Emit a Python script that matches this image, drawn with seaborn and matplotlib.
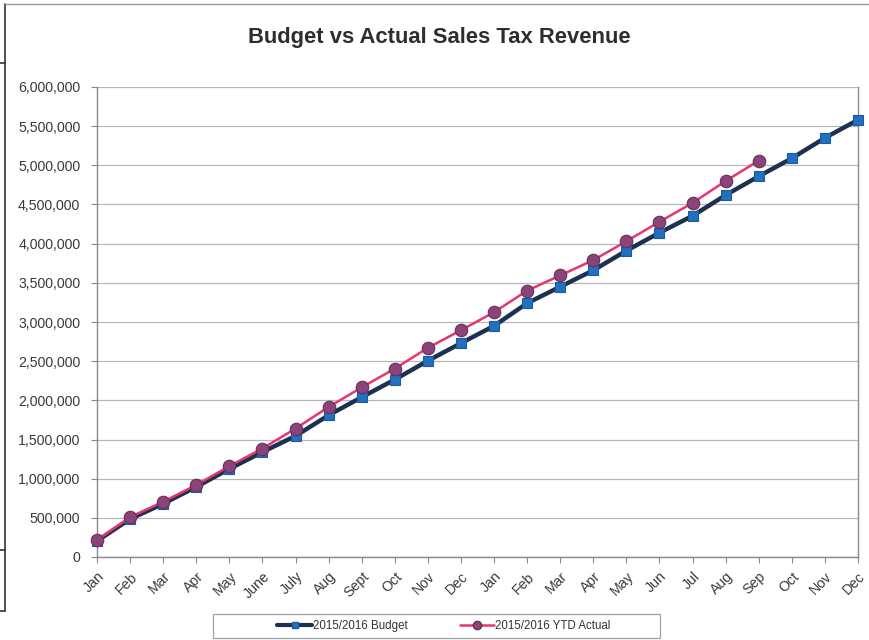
import matplotlib
matplotlib.use("Agg")
import matplotlib.pyplot as plt
from matplotlib.lines import Line2D
from matplotlib.patches import Rectangle
from matplotlib.ticker import FuncFormatter, MultipleLocator
import seaborn as sns
import pandas as pd

months = ["Jan", "Feb", "Mar", "Apr", "May", "June", "July", "Aug", "Sept", "Oct", "Nov", "Dec",
          "Jan", "Feb", "Mar", "Apr", "May", "Jun", "Jul", "Aug", "Sep", "Oct", "Nov", "Dec"]

budget = [205000, 485000, 680000, 895000, 1125000, 1340000, 1545000, 1810000, 2040000, 2265000,
          2505000, 2730000, 2950000, 3240000, 3450000, 3660000, 3910000, 4140000, 4355000, 4620000,
          4860000, 5090000, 5350000, 5580000]

actual = [215000, 510000, 705000, 920000, 1160000, 1385000, 1640000, 1915000, 2165000, 2405000,
          2670000, 2895000, 3125000, 3400000, 3595000, 3790000, 4030000, 4280000, 4520000, 4800000,
          5060000]

budget_label = "2015/2016 Budget"
actual_label = "2015/2016 YTD Actual"
title = "Budget vs Actual Sales Tax Revenue"

df_budget = pd.DataFrame({"idx": range(len(budget)), "value": budget})
df_actual = pd.DataFrame({"idx": range(len(actual)), "value": actual})

sns.set_style("white")
plt.rcParams["font.family"] = ["Liberation Sans", "DejaVu Sans"]

fig = plt.figure(figsize=(8.69, 6.40), dpi=100)
ax = fig.add_axes([97 / 869, 1 - 557 / 640, (858 - 97) / 869, (557 - 87) / 640])

budget_line = "#1C3152"
budget_marker = "#2270C0"
actual_line = "#E8356F"
actual_marker = "#8A4479"

sns.lineplot(data=df_budget, x="idx", y="value", ax=ax, color=budget_line, lw=3.2,
             marker="s", markersize=7, markerfacecolor=budget_marker,
             markeredgecolor="#1F5A9A", markeredgewidth=0.8, clip_on=False, zorder=3)
sns.lineplot(data=df_actual, x="idx", y="value", ax=ax, color=actual_line, lw=1.8,
             marker="o", markersize=9, markerfacecolor=actual_marker,
             markeredgecolor="#6B2D5C", markeredgewidth=0.8, clip_on=False, zorder=4)

ax.set_xlim(0, len(months) - 1)
ax.set_ylim(0, 6000000)
ax.yaxis.set_major_locator(MultipleLocator(500000))
ax.yaxis.set_major_formatter(FuncFormatter(lambda v, p: f"{int(v):,}"))
ax.set_xticks(range(len(months)))
ax.set_xticklabels(months, rotation=45, ha="right", rotation_mode="anchor")
ax.set_xlabel("")
ax.set_ylabel("")

ax.grid(axis="y", color="#B4B8BC", lw=0.9)
ax.grid(axis="x", visible=False)
for side in ["left", "bottom", "right"]:
    ax.spines[side].set_color("#8A8A8A")
    ax.spines[side].set_linewidth(1.0)
ax.spines["top"].set_visible(False)

ax.tick_params(axis="both", which="major", direction="out", length=4, width=0.8,
               color="#8A8A8A", labelcolor="#3A3A3A", labelsize=10.2)
ax.tick_params(axis="x", pad=5)
ax.tick_params(axis="y", pad=8)
ax.tick_params(left=True, bottom=True)

fig.text(0.506, 1 - 37 / 640, title, ha="center", va="center", fontsize=15.8,
         fontweight="bold", color="#2E2E2E")

# legend box along the bottom
fig.patches.append(Rectangle((213 / 869, 1 - 638 / 640), (660 - 213) / 869, 24 / 640,
                             transform=fig.transFigure, facecolor="white",
                             edgecolor="#A0A0A0", lw=0.9))
handles = [
    Line2D([], [], color=budget_line, lw=3.0, marker="s", markersize=5,
           markerfacecolor=budget_marker, markeredgecolor="#1F5A9A"),
    Line2D([], [], color=actual_line, lw=1.8, marker="o", markersize=6,
           markerfacecolor=actual_marker, markeredgecolor="#6B2D5C"),
]
fig.legend(handles, [budget_label, actual_label], loc="center",
           bbox_to_anchor=(444 / 869, 1 - 626 / 640), ncol=2, frameon=False,
           fontsize=8.3, handlelength=3.0, handletextpad=0.1, columnspacing=4.5,
           labelcolor="#333333")

# outer page frame
frame_kw = dict(transform=fig.transFigure, color="#333333", lw=1.2)
fig.add_artist(Line2D([5 / 869, 5 / 869], [1 - 4 / 640, 1 - 611 / 640], **frame_kw))
fig.add_artist(Line2D([5 / 869, 1.0], [1 - 4 / 640, 1 - 4 / 640],
                      transform=fig.transFigure, color="#9A9A9A", lw=1.0))
for yy in (63, 550, 611):
    fig.add_artist(Line2D([0, 5 / 869], [1 - yy / 640, 1 - yy / 640], **frame_kw))

fig.savefig("out.png", dpi=100)
